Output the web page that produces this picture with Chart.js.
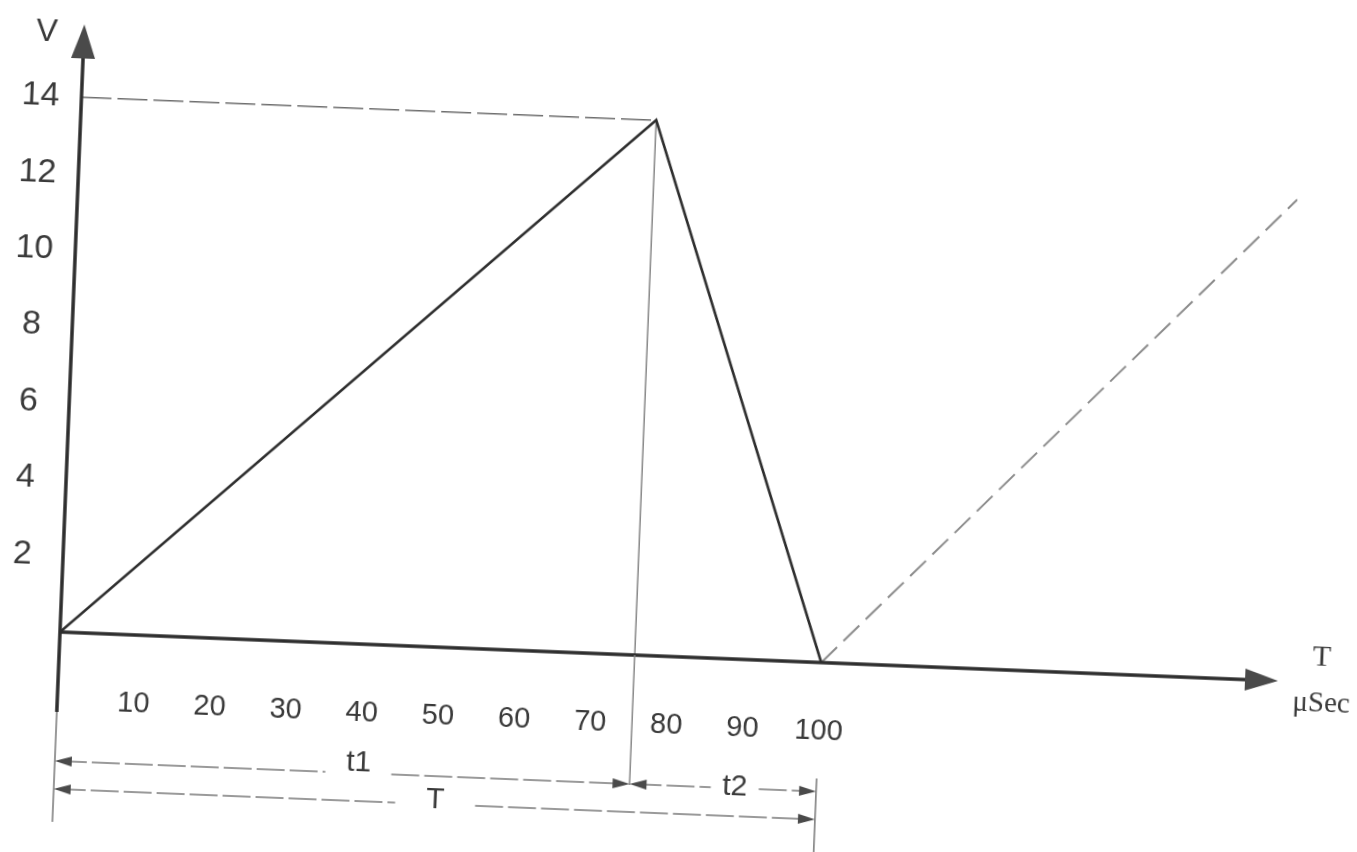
<!DOCTYPE html>
<html>
<head>
<meta charset="utf-8">
<title>Sawtooth voltage</title>
<script src="https://cdn.jsdelivr.net/npm/chart.js@4.4.1/dist/chart.umd.min.js"></script>
<style>
  html, body { margin: 0; padding: 0; background: #fff; overflow: hidden; }
  #wrap { position: relative; width: 1357px; height: 852px; overflow: hidden; }
  /* the scanned page sits a little turned, so turn the canvas round the origin.
     canvas starts 40px left of the page so the turned tick labels keep their edge */
  #sawChart { position: absolute; left: -40px; top: 0; transform: rotate(2.3deg); transform-origin: 100px 632px; }
</style>
</head>
<body>
<div id="wrap"><canvas id="sawChart" width="1397" height="852"></canvas></div>
<script>
// values (time in µs, voltage in V)
const rampTimes = [0, 75.5, 100];
const rampVolts = [0, 14, 0];
const nextTimes = [100, 160];
const nextVolts = [0, 12.6];
const peakTime = 75.5;
const peakVolt = 14;
const periodEnd = 100;
const xTickValues = [10, 20, 30, 40, 50, 60, 70, 80, 90, 100];
const yTickValues = [2, 4, 6, 8, 10, 12, 14];
const xMax = 160;
const yMax = 15.9;

const shiftX = 40;
const ink = '#2e2e2e';
const textInk = '#3a3a3a';
const sans = '"Liberation Sans", Arial, sans-serif';
const serif = '"Liberation Serif", "Times New Roman", serif';

const toPoints = (xs, ys) => xs.map((x, i) => ({ x: x, y: ys[i] }));

function arrowHead(ctx, x, y, dir, len, half) {
    ctx.beginPath();
    ctx.moveTo(x, y);
    if (dir === 'right') { ctx.lineTo(x - len, y - half); ctx.lineTo(x - len, y + half); }
    if (dir === 'left') { ctx.lineTo(x + len, y - half); ctx.lineTo(x + len, y + half); }
    if (dir === 'up') { ctx.lineTo(x - half, y + len); ctx.lineTo(x + half, y + len); }
    ctx.closePath();
    ctx.fill();
}

function line(ctx, x1, y1, x2, y2, width, color, dash) {
    ctx.save();
    ctx.strokeStyle = color;
    ctx.lineWidth = width;
    ctx.setLineDash(dash || []);
    ctx.beginPath();
    ctx.moveTo(x1, y1);
    ctx.lineTo(x2, y2);
    ctx.stroke();
    ctx.restore();
}

// dimension line with arrows at both ends and a label sitting in a gap
function dimension(ctx, x1, x2, y, label, at, gapHalf, textY) {
    const cx = x1 + (x2 - x1) * at;
    const dash = [28, 5];
    line(ctx, x1 + 4, y, cx - gapHalf, y, 1.5, '#7a7a7a', dash);
    line(ctx, cx + gapHalf, y, x2 - 4, y, 1.5, '#7a7a7a', dash);
    ctx.fillStyle = '#4a4a4a';
    arrowHead(ctx, x1, y, 'left', 17, 5);
    arrowHead(ctx, x2, y, 'right', 17, 5);
    ctx.font = '30px ' + sans;
    ctx.fillStyle = textInk;
    ctx.textAlign = 'center';
    ctx.textBaseline = 'middle';
    ctx.fillText(label, cx, textY);
}

const scanDrawing = {
    id: 'scanDrawing',
    afterDraw(chart) {
        const ctx = chart.ctx;
        const xs = chart.scales.x;
        const ys = chart.scales.y;
        const x0 = xs.getPixelForValue(0);
        const y0 = ys.getPixelForValue(0);
        const xEnd = xs.getPixelForValue(xMax);
        const yTop = ys.getPixelForValue(yMax);
        const xPeak = xs.getPixelForValue(peakTime);
        const xPeriod = xs.getPixelForValue(periodEnd);

        ctx.save();
        // axes
        line(ctx, x0, y0, xEnd - 20, y0, 3.5, ink);
        line(ctx, x0, 712, x0, yTop + 20, 3.5, ink);
        ctx.fillStyle = '#4a4a4a';
        arrowHead(ctx, xEnd, y0, 'right', 33, 11);
        arrowHead(ctx, x0, yTop, 'up', 34, 12);

        // extension lines below the time axis
        line(ctx, x0, 712, x0, 822, 1.5, '#777');
        line(ctx, xPeak, y0, xPeak, 762, 1.5, '#888');
        line(ctx, xPeriod, 748, xPeriod, 832, 1.5, '#777');

        dimension(ctx, x0, xPeak, 761, 't1', 0.528, 33, 751);
        dimension(ctx, xPeak, xPeriod, 761, 't2', 0.564, 24, 760);
        dimension(ctx, x0, xPeriod, 789, 'T', 0.501, 40, 785);

        // axis names
        ctx.fillStyle = textInk;
        ctx.textAlign = 'center';
        ctx.textBaseline = 'middle';
        ctx.font = '32px ' + sans;
        ctx.fillText('V', 23 + shiftX, 33);
        ctx.font = '30px ' + serif;
        ctx.fillText('T', 1322 + shiftX, 607);
        ctx.font = '29px ' + serif;
        ctx.fillText('μSec', 1323 + shiftX, 653);
        ctx.restore();
    }
};

const ctx = document.getElementById('sawChart').getContext('2d');
new Chart(ctx, {
    type: 'line',
    data: {
        datasets: [
            {
                label: 'V',
                data: toPoints(rampTimes, rampVolts),
                borderColor: ink,
                borderWidth: 2.6,
                pointRadius: 0,
                tension: 0
            },
            {
                label: 'next',
                data: toPoints(nextTimes, nextVolts),
                borderColor: '#8c8c8c',
                borderWidth: 2,
                borderDash: [22, 9],
                pointRadius: 0
            },
            {
                label: 'level',
                data: toPoints([0, peakTime], [peakVolt, peakVolt]),
                borderColor: '#6e6e6e',
                borderWidth: 1.5,
                borderDash: [30, 6],
                pointRadius: 0
            },
            {
                label: 'drop',
                data: toPoints([peakTime, peakTime], [peakVolt, 0]),
                borderColor: '#888',
                borderWidth: 1.5,
                pointRadius: 0
            }
        ]
    },
    options: {
        responsive: false,
        animation: false,
        devicePixelRatio: 1,
        layout: { padding: { left: shiftX - 12, top: 24, right: 78, bottom: 0 } },
        plugins: {
            legend: { display: false },
            tooltip: { enabled: false }
        },
        scales: {
            x: {
                type: 'linear',
                min: 0,
                max: xMax,
                grid: { display: false, drawTicks: false },
                border: { display: false },
                afterBuildTicks: (axis) => { axis.ticks = xTickValues.map(v => ({ value: v })); },
                afterFit: (axis) => {
                    axis.height = 220;
                    axis.paddingLeft = 0;
                    axis.paddingRight = 0;
                },
                ticks: {
                    autoSkip: false,
                    maxRotation: 0,
                    padding: 52,
                    color: textInk,
                    font: { family: sans, size: 29 }
                }
            },
            y: {
                type: 'linear',
                min: 0,
                max: yMax,
                grid: { display: false, drawTicks: false },
                border: { display: false },
                afterBuildTicks: (axis) => { axis.ticks = yTickValues.map(v => ({ value: v })); },
                afterFit: (axis) => {
                    axis.width = 72;
                    axis.paddingTop = 0;
                    axis.paddingBottom = 0;
                },
                ticks: {
                    crossAlign: 'center',
                    padding: 22,
                    color: textInk,
                    font: { family: sans, size: 34 }
                }
            }
        }
    },
    plugins: [scanDrawing]
});
</script>
</body>
</html>
